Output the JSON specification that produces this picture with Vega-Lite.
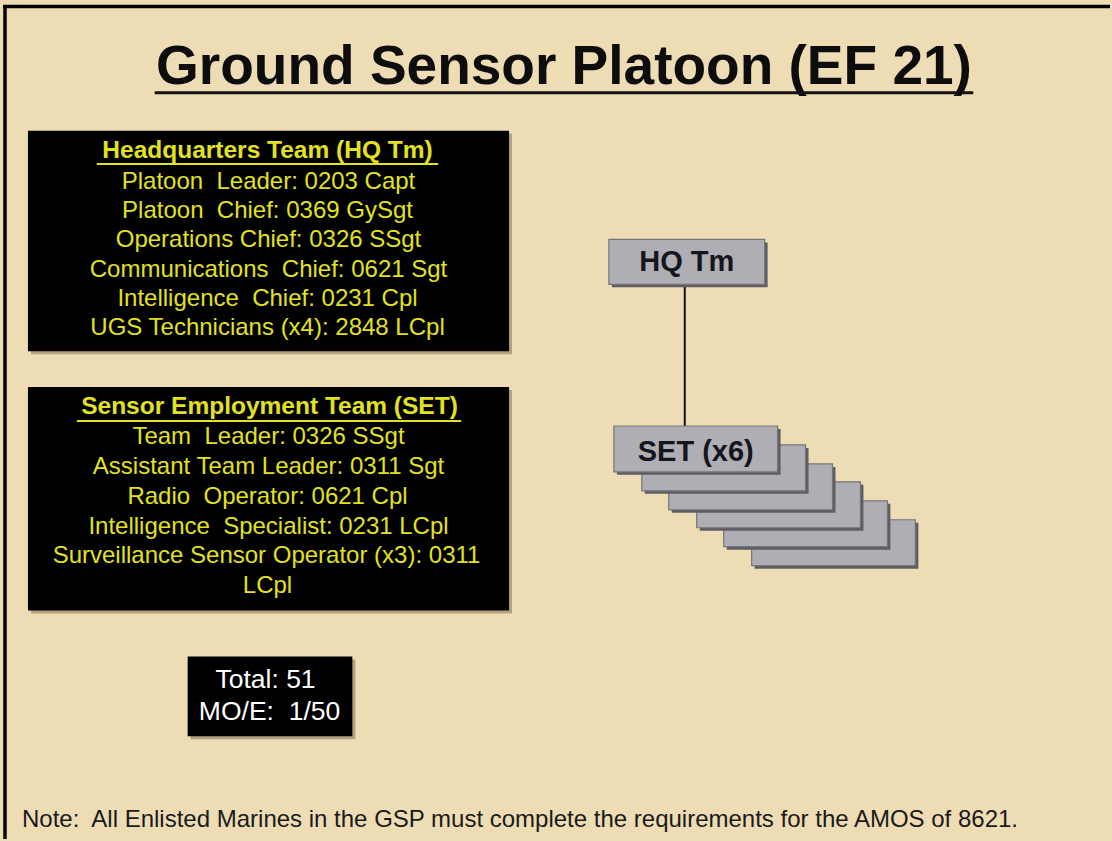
{
  "$schema": "https://vega.github.io/schema/vega-lite/v6.json",
  "width": 1112,
  "height": 841,
  "autosize": {"type": "fit", "contains": "padding"},
  "padding": 0,
  "background": "#EEDCB4",
  "config": {"view": {"stroke": null}},
  "datasets": {
    "frame": [
      {"x": 3, "x2": 1112, "y": 6.5, "y2": 6.5},
      {"x": 5, "x2": 5, "y": 5, "y2": 841}
    ],
    "panelShadows": [
      {"x": 31, "x2": 513, "y": 134, "y2": 355},
      {"x": 31, "x2": 513, "y": 391, "y2": 615},
      {"x": 191, "x2": 356, "y": 661, "y2": 741}
    ],
    "panels": [
      {"x": 28, "x2": 510, "y": 131, "y2": 352},
      {"x": 28, "x2": 510, "y": 388, "y2": 612},
      {"x": 188, "x2": 353, "y": 658, "y2": 738}
    ],
    "boxes": [
      {"kind": "shadow", "x": 613, "x2": 769, "y": 243, "y2": 288},
      {"kind": "box", "x": 610, "x2": 766, "y": 240, "y2": 285},
      {"kind": "shadow", "x": 756, "x2": 920, "y": 524, "y2": 570},
      {"kind": "box", "x": 753, "x2": 917, "y": 521, "y2": 567},
      {"kind": "shadow", "x": 728, "x2": 892, "y": 505, "y2": 551},
      {"kind": "box", "x": 725, "x2": 889, "y": 502, "y2": 548},
      {"kind": "shadow", "x": 701, "x2": 865, "y": 486, "y2": 532},
      {"kind": "box", "x": 698, "x2": 862, "y": 483, "y2": 529},
      {"kind": "shadow", "x": 673, "x2": 837, "y": 468, "y2": 514},
      {"kind": "box", "x": 670, "x2": 834, "y": 465, "y2": 511},
      {"kind": "shadow", "x": 646, "x2": 810, "y": 449, "y2": 495},
      {"kind": "box", "x": 643, "x2": 807, "y": 446, "y2": 492},
      {"kind": "shadow", "x": 618, "x2": 782, "y": 430, "y2": 476},
      {"kind": "box", "x": 615, "x2": 779, "y": 427, "y2": 473}
    ],
    "connector": [
      {"x": 686, "x2": 686, "y": 287, "y2": 427}
    ],
    "titleUnderline": [
      {"x": 155, "x2": 975, "y": 93, "y2": 93}
    ],
    "headerUnderlines": [
      {"x": 97, "x2": 439, "y": 164.5, "y2": 164.5},
      {"x": 77, "x2": 462, "y": 422, "y2": 422}
    ],
    "title": [
      {"x": 565, "y": 67, "text": "Ground Sensor Platoon (EF 21)"}
    ],
    "headers": [
      {"x": 268, "y": 151, "text": "Headquarters Team (HQ Tm)"},
      {"x": 270, "y": 408, "text": "Sensor Employment Team (SET)"}
    ],
    "lines": [
      {"x": 269, "y": 182, "text": "Platoon\u00a0 Leader: 0203 Capt"},
      {"x": 268, "y": 212, "text": "Platoon\u00a0 Chief: 0369 GySgt"},
      {"x": 269, "y": 241, "text": "Operations Chief: 0326 SSgt"},
      {"x": 269, "y": 271, "text": "Communications\u00a0 Chief: 0621 Sgt"},
      {"x": 268, "y": 300, "text": "Intelligence\u00a0 Chief: 0231 Cpl"},
      {"x": 268, "y": 329, "text": "UGS Technicians (x4): 2848 LCpl"},
      {"x": 269, "y": 438, "text": "Team\u00a0 Leader: 0326 SSgt"},
      {"x": 269, "y": 468, "text": "Assistant Team Leader: 0311 Sgt"},
      {"x": 268, "y": 498, "text": "Radio\u00a0 Operator: 0621 Cpl"},
      {"x": 269, "y": 528, "text": "Intelligence\u00a0 Specialist: 0231 LCpl"},
      {"x": 267, "y": 557, "text": "Surveillance Sensor Operator (x3): 0311"},
      {"x": 268, "y": 587, "text": "LCpl"}
    ],
    "totals": [
      {"x": 266, "y": 682, "text": "Total: 51"},
      {"x": 270, "y": 714, "text": "MO/E:\u00a0 1/50"}
    ],
    "boxLabels": [
      {"x": 688, "y": 263, "text": "HQ Tm"},
      {"x": 697, "y": 453, "text": "SET (x6)"}
    ],
    "note": [
      {"x": 22, "y": 822, "text": "Note:\u00a0 All Enlisted Marines in the GSP must complete the requirements for the AMOS of 8621."}
    ]
  },
  "encoding": {
    "x": {"field": "x", "type": "quantitative", "axis": null, "scale": {"domain": [0, 1112], "nice": false, "zero": false}},
    "y": {"field": "y", "type": "quantitative", "axis": null, "scale": {"domain": [0, 841], "nice": false, "zero": false, "reverse": true}}
  },
  "layer": [
    {
      "data": {"name": "frame"},
      "mark": {"type": "rule", "color": "#000000", "strokeWidth": 3.5},
      "encoding": {"x2": {"field": "x2"}, "y2": {"field": "y2"}}
    },
    {
      "data": {"name": "panelShadows"},
      "mark": {"type": "rect", "color": "#6b5a3e", "opacity": 0.45},
      "encoding": {"x2": {"field": "x2"}, "y2": {"field": "y2"}}
    },
    {
      "data": {"name": "panels"},
      "mark": {"type": "rect", "color": "#000000"},
      "encoding": {"x2": {"field": "x2"}, "y2": {"field": "y2"}}
    },
    {
      "data": {"name": "connector"},
      "mark": {"type": "rule", "color": "#111111", "strokeWidth": 2},
      "encoding": {"x2": {"field": "x2"}, "y2": {"field": "y2"}}
    },
    {
      "data": {"name": "boxes"},
      "mark": {"type": "rect", "stroke": "#74747a", "strokeWidth": 1.2},
      "encoding": {
        "x2": {"field": "x2"},
        "y2": {"field": "y2"},
        "fill": {"field": "kind", "type": "nominal", "legend": null, "scale": {"domain": ["shadow", "box"], "range": ["#5e5e62", "#AEAEB4"]}},
        "strokeOpacity": {"field": "kind", "type": "nominal", "legend": null, "scale": {"domain": ["shadow", "box"], "range": [0, 1]}}
      }
    },
    {
      "data": {"name": "titleUnderline"},
      "mark": {"type": "rule", "color": "#111111", "strokeWidth": 3},
      "encoding": {"x2": {"field": "x2"}, "y2": {"field": "y2"}}
    },
    {
      "data": {"name": "headerUnderlines"},
      "mark": {"type": "rule", "color": "#E2E21E", "strokeWidth": 2},
      "encoding": {"x2": {"field": "x2"}, "y2": {"field": "y2"}}
    },
    {
      "data": {"name": "title"},
      "mark": {"type": "text", "font": "Liberation Sans", "fontWeight": "bold", "fontSize": 55, "color": "#0d0d0d", "align": "center", "baseline": "middle"},
      "encoding": {"text": {"field": "text"}}
    },
    {
      "data": {"name": "headers"},
      "mark": {"type": "text", "font": "Liberation Sans", "fontWeight": "bold", "fontSize": 24.5, "color": "#E2E21E", "align": "center", "baseline": "middle"},
      "encoding": {"text": {"field": "text"}}
    },
    {
      "data": {"name": "lines"},
      "mark": {"type": "text", "font": "Liberation Sans", "fontSize": 24, "color": "#E2E21E", "align": "center", "baseline": "middle"},
      "encoding": {"text": {"field": "text"}}
    },
    {
      "data": {"name": "totals"},
      "mark": {"type": "text", "font": "Liberation Sans", "fontSize": 26.5, "color": "#FFFFFF", "align": "center", "baseline": "middle"},
      "encoding": {"text": {"field": "text"}}
    },
    {
      "data": {"name": "boxLabels"},
      "mark": {"type": "text", "font": "Liberation Sans", "fontWeight": "bold", "fontSize": 29, "color": "#15151c", "align": "center", "baseline": "middle"},
      "encoding": {"text": {"field": "text"}}
    },
    {
      "data": {"name": "note"},
      "mark": {"type": "text", "font": "Liberation Sans", "fontSize": 24, "color": "#1a1a1a", "align": "left", "baseline": "middle"},
      "encoding": {"text": {"field": "text"}}
    }
  ]
}
